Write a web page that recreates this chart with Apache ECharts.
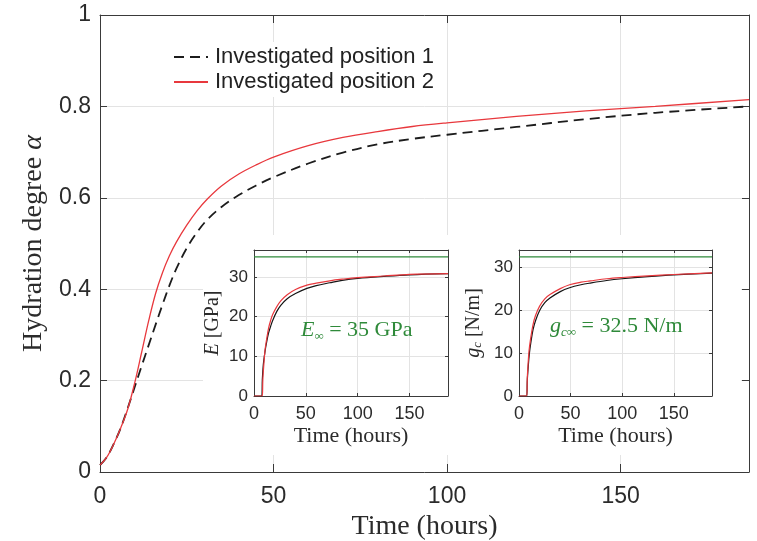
<!DOCTYPE html>
<html>
<head>
<meta charset="utf-8">
<script src="https://cdn.jsdelivr.net/npm/echarts@6/dist/echarts.min.js"></script>
<style>
  html, body { margin: 0; padding: 0; background: #fff; }
  #main { width: 757px; height: 541px; }
</style>
</head>
<body>
<div id="main"></div>
<script>
// main plot: hydration degree vs time
const hours = [0, 2, 4, 6, 8, 10, 12, 14, 16, 18, 20, 22, 25, 28, 31, 35, 40, 45, 50, 60, 70, 80, 90, 100, 120, 140, 160, 187];
const alphaPos1 = [0.015, 0.033, 0.062, 0.097, 0.14, 0.186, 0.232, 0.277, 0.322, 0.366, 0.408, 0.445, 0.49, 0.525, 0.553, 0.58, 0.606, 0.627, 0.645, 0.675, 0.699, 0.717, 0.729, 0.738, 0.755, 0.772, 0.786, 0.8];
const alphaPos2 = [0.015, 0.033, 0.062, 0.097, 0.138, 0.195, 0.262, 0.33, 0.39, 0.436, 0.473, 0.503, 0.54, 0.572, 0.598, 0.626, 0.652, 0.672, 0.689, 0.714, 0.732, 0.745, 0.756, 0.764, 0.778, 0.79, 0.8, 0.815];
const legendNames = ['Investigated position 1', 'Investigated position 2'];

// inset 1: Young's modulus
const eHours1 = [0, 7.5, 8, 9, 10.5, 12, 14, 16, 18, 22, 26, 32, 40, 51, 60, 73, 85, 100, 125, 150, 187];
const modulusPos1 = [0, 0, 4, 8, 11, 13.3, 15.8, 17.5, 19, 21.3, 22.9, 24.5, 25.8, 27.1, 27.8, 28.5, 29.1, 29.6, 30.1, 30.5, 30.8];
const eHours2 = [0, 8, 8.5, 9.5, 10.6, 12, 14, 16, 18, 22, 26, 32, 40, 51, 60, 73, 85, 100, 125, 150, 187];
const modulusPos2 = [0, 0, 4, 8, 11.5, 14, 17, 19, 20.5, 22.5, 24, 25.5, 26.8, 27.9, 28.4, 29, 29.4, 29.8, 30.2, 30.6, 30.8];
const E_INF = 35;

// inset 2: fracture toughness
const gHours1 = [0, 7.5, 8, 9, 10, 11.5, 13.6, 16, 20, 25, 30, 40, 49, 60, 69, 85, 100, 125, 150, 187];
const gcPos1 = [0, 0, 3.5, 7, 9.8, 12.5, 15.5, 17.6, 20, 21.8, 22.9, 24.4, 25.3, 26, 26.4, 27, 27.4, 27.9, 28.3, 28.7];
const gHours2 = [0, 7.5, 8, 8.8, 9.7, 11, 13.6, 16, 20, 25, 30, 40, 49, 60, 69, 85, 100, 125, 150, 187];
const gcPos2 = [0, 0, 4, 7.5, 10.5, 13, 16.7, 18.8, 21, 22.7, 23.7, 25.1, 26.0, 26.6, 26.9, 27.4, 27.7, 28.1, 28.4, 28.8];
const GC_INF = 32.5;

const T_MAX = 187;

const pairs = (xs, ys) => xs.map((x, i) => [x, ys[i]]);

const SANS = 'Liberation Sans';
const SERIF = 'Liberation Serif';
const AXIS_COLOR = '#3a3a3a';
const GRID_COLOR = '#e3e3e3';
const RED = '#e8383d';
const GREEN = '#2f8a3a';
const SMOOTH = 0.35;

var myChart = echarts.init(document.getElementById('main'), null, { renderer: 'canvas' });

// one axis with ticks inside; "side" axes only draw the frame
function valAxis(opt) {
    const main = opt.main;
    return {
        type: 'value',
        gridIndex: opt.grid,
        position: opt.position,
        min: opt.min,
        max: opt.max,
        interval: opt.interval,
        z: opt.z || 0,
        name: opt.name || '',
        nameLocation: 'middle',
        nameGap: opt.nameGap,
        nameTextStyle: opt.nameTextStyle,
        axisLine: { show: true, onZero: false, lineStyle: { color: AXIS_COLOR, width: 1 } },
        axisTick: { show: true, inside: true, length: opt.tick, lineStyle: { color: AXIS_COLOR } },
        axisLabel: {
            show: main,
            showMaxLabel: opt.showMax !== false,
            margin: opt.margin,
            color: '#2b2b2b',
            fontFamily: SANS,
            fontSize: opt.fontSize
        },
        splitLine: { show: main, lineStyle: { color: GRID_COLOR, width: 1 } }
    };
}

const mainName = { fontFamily: SERIF, fontSize: 28, color: '#2b2b2b' };
const insetName = { fontFamily: SERIF, fontSize: 22, color: '#2b2b2b' };

function lineSeries(name, xi, data, color, width, dash) {
    return {
        name: name, type: 'line', xAxisIndex: xi, yAxisIndex: xi,
        data: data, showSymbol: false, symbol: 'none',
        smooth: SMOOTH, z: xi === 0 ? 2 : 5,
        lineStyle: { color: color, width: width, type: dash || 'solid' },
        itemStyle: { color: color }
    };
}

let option = {
    backgroundColor: '#ffffff',
    animation: false,
    grid: [
        { left: 100, top: 15, right: 8, bottom: 69, outerBoundsMode: 'none' },
        { left: 254, top: 250, width: 194, height: 146, outerBoundsMode: 'none' },
        { left: 519, top: 250, width: 193, height: 146, outerBoundsMode: 'none' }
    ],
    legend: {
        data: legendNames,
        orient: 'vertical',
        left: 169,
        top: 42,
        padding: [4, 6, 4, 4],
        itemGap: 3,
        itemWidth: 34,
        itemHeight: 14,
        itemStyle: { opacity: 0 },
        backgroundColor: '#ffffff',
        textStyle: { fontFamily: SANS, fontSize: 22, color: '#222', lineHeight: 22, padding: [0, 0, 0, 2] }
    },
    graphic: [
        // white panel behind the two insets
        { type: 'rect', z: 3, shape: { x: 203, y: 235, width: 538, height: 220 }, style: { fill: '#ffffff' }, silent: true },
        {
            type: 'text', z: 6, left: 301, top: 319,
            style: {
                text: '{i|E}{s|∞} = 35 GPa',
                fill: GREEN, font: '22px ' + SERIF,
                rich: {
                    i: { fontStyle: 'italic', fontSize: 22, fontFamily: SERIF, fill: GREEN, lineHeight: 26 },
                    s: { fontSize: 13, fontFamily: SERIF, fill: GREEN, verticalAlign: 'bottom', lineHeight: 26 }
                }
            }
        },
        {
            type: 'text', z: 6, left: 550, top: 315,
            style: {
                text: '{i|g}{s|c∞} = 32.5 N/m',
                fill: GREEN, font: '22px ' + SERIF,
                rich: {
                    i: { fontStyle: 'italic', fontSize: 22, fontFamily: SERIF, fill: GREEN, lineHeight: 26 },
                    s: { fontStyle: 'italic', fontSize: 13, fontFamily: SERIF, fill: GREEN, verticalAlign: 'bottom', lineHeight: 26 }
                }
            }
        }
    ],
    xAxis: [
        valAxis({ main: true, grid: 0, position: 'bottom', min: 0, max: T_MAX, interval: 50, tick: 8, margin: 13, fontSize: 23, showMax: false,
                  name: 'Time (hours)', nameGap: 40, nameTextStyle: mainName }),
        valAxis({ main: false, grid: 0, position: 'top', min: 0, max: T_MAX, interval: 50, tick: 8 }),
        valAxis({ main: true, grid: 1, position: 'bottom', min: 0, max: T_MAX, interval: 50, tick: 3, margin: 9, fontSize: 18, showMax: false, z: 4,
                  name: 'Time (hours)', nameGap: 29, nameTextStyle: insetName }),
        valAxis({ main: false, grid: 1, position: 'top', min: 0, max: T_MAX, interval: 50, tick: 3, z: 4 }),
        valAxis({ main: true, grid: 2, position: 'bottom', min: 0, max: T_MAX, interval: 50, tick: 3, margin: 9, fontSize: 18, showMax: false, z: 4,
                  name: 'Time (hours)', nameGap: 29, nameTextStyle: insetName }),
        valAxis({ main: false, grid: 2, position: 'top', min: 0, max: T_MAX, interval: 50, tick: 3, z: 4 })
    ],
    yAxis: [
        valAxis({ main: true, grid: 0, position: 'left', min: 0, max: 1, interval: 0.2, tick: 7, margin: 9, fontSize: 23,
                  name: 'Hydration degree {a|α}', nameGap: 48,
                  nameTextStyle: Object.assign({}, mainName, { rich: { a: { fontStyle: 'italic', fontFamily: SERIF, fontSize: 28, color: '#2b2b2b' } } }) }),
        valAxis({ main: false, grid: 0, position: 'right', min: 0, max: 1, interval: 0.2, tick: 7 }),
        valAxis({ main: true, grid: 1, position: 'left', min: 0, max: E_INF * 1.05, interval: 10, tick: 3, margin: 6, fontSize: 17, showMax: false, z: 4,
                  name: '{i|E} [GPa]', nameGap: 31,
                  nameTextStyle: Object.assign({}, insetName, { fontSize: 20, rich: { i: { fontStyle: 'italic', fontFamily: SERIF, fontSize: 20, color: '#2b2b2b' } } }) }),
        valAxis({ main: false, grid: 1, position: 'right', min: 0, max: E_INF * 1.05, interval: 10, tick: 3, z: 4 }),
        valAxis({ main: true, grid: 2, position: 'left', min: 0, max: GC_INF * 1.05, interval: 10, tick: 3, margin: 6, fontSize: 17, showMax: false, z: 4,
                  name: '{i|g}{s|c} [N/m]', nameGap: 35,
                  nameTextStyle: Object.assign({}, insetName, { fontSize: 20, rich: {
                      i: { fontStyle: 'italic', fontFamily: SERIF, fontSize: 20, color: '#2b2b2b' },
                      s: { fontStyle: 'italic', fontFamily: SERIF, fontSize: 13, color: '#2b2b2b', verticalAlign: 'bottom' } } }) }),
        valAxis({ main: false, grid: 2, position: 'right', min: 0, max: GC_INF * 1.05, interval: 10, tick: 3, z: 4 })
    ],
    series: [
        lineSeries(legendNames[0], 0, pairs(hours, alphaPos1), '#1c1c1c', 1.8, [10, 6]),
        lineSeries(legendNames[1], 0, pairs(hours, alphaPos2), RED, 1.3),
        lineSeries('E inf', 2, [[0, E_INF], [T_MAX, E_INF]], GREEN, 1.2),
        lineSeries('E pos1', 2, pairs(eHours1, modulusPos1), '#151515', 1.2),
        lineSeries('E pos2', 2, pairs(eHours2, modulusPos2), RED, 1.2),
        lineSeries('gc inf', 4, [[0, GC_INF], [T_MAX, GC_INF]], GREEN, 1.2),
        lineSeries('gc pos1', 4, pairs(gHours1, gcPos1), '#151515', 1.2),
        lineSeries('gc pos2', 4, pairs(gHours2, gcPos2), RED, 1.2)
    ]
};
myChart.setOption(option);
</script>
</body>
</html>
